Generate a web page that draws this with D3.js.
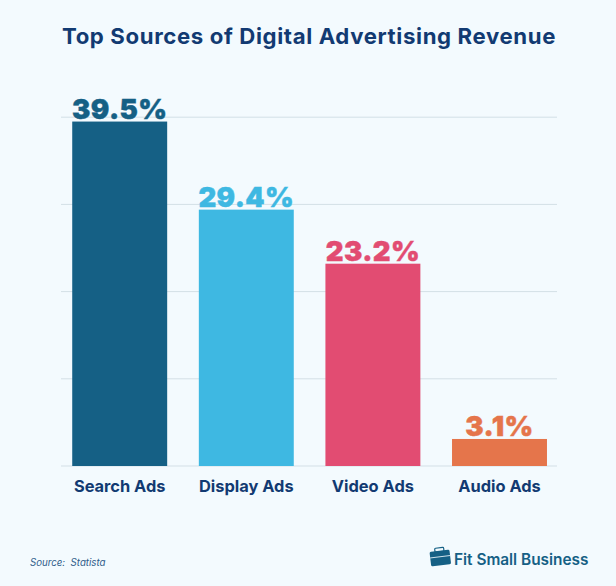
<!DOCTYPE html>
<html><head><meta charset="utf-8">
<script src="https://cdnjs.cloudflare.com/ajax/libs/d3/7.8.5/d3.min.js"></script>
<style>html,body{margin:0;padding:0;background:#f3fafe}svg{display:block}text{font-family:Inter,sans-serif}</style>
</head><body><svg id="c" width="616" height="586"></svg>
<script>
const categories=["Search Ads","Display Ads","Video Ads","Audio Ads"];
const values=[39.5,29.4,23.2,3.1];
const valueLabels=["39.5%","29.4%","23.2%","3.1%"];
const colors=["#156085","#3eb8e2","#e24c72","#e5754b"];
const gridTicks=[0,10,20,30,40];
const svg=d3.select("#c");
const navy="#123a72";
const x=d3.scaleBand().domain(categories).range([56.4,562.8]).paddingInner(.25).paddingOuter(.125);
const y=d3.scaleLinear().domain([0,40]).range([466,117.2]);
svg.append("rect").attr("width",616).attr("height",586).attr("fill","#f3fafe");
svg.append("text").attr("x",309).attr("y",44).attr("text-anchor","middle").attr("font-size",22.2).attr("font-weight",700).attr("fill",navy).attr("letter-spacing",.62).text("Top Sources of Digital Advertising Revenue");
svg.append("g").selectAll("line").data(gridTicks).join("line").attr("x1",61).attr("x2",557).attr("y1",d=>y(d)).attr("y2",d=>y(d)).attr("stroke","#d3dfe6").attr("stroke-width",1);
svg.append("g").selectAll("rect").data(categories).join("rect").attr("x",d=>x(d)).attr("width",x.bandwidth()).attr("y",(d,i)=>y(values[i])).attr("height",(d,i)=>y(0)-y(values[i])).attr("fill",(d,i)=>colors[i]);
svg.append("g").selectAll("text").data(categories).join("text").attr("x",d=>x(d)+x.bandwidth()/2).attr("y",(d,i)=>y(values[i])-3).attr("text-anchor","middle").attr("font-size",27.5).attr("font-weight",900).attr("letter-spacing",.4).attr("fill",(d,i)=>colors[i]).attr("stroke",(d,i)=>colors[i]).attr("stroke-width",.4).text((d,i)=>valueLabels[i]);
svg.append("g").selectAll("text").data(categories).join("text").attr("x",d=>x(d)+x.bandwidth()/2).attr("y",492).attr("text-anchor","middle").attr("font-size",16.4).attr("font-weight",700).attr("fill",navy).text(d=>d);
svg.append("text").attr("x",30).attr("y",566).attr("font-size",9.7).attr("font-style","italic").attr("fill","#2f5c8a").style("white-space","pre").text("Source:  Statista");
const logo=svg.append("g").attr("transform","translate(429.5,552) rotate(-7)");
logo.append("rect").attr("width",20).attr("height",14.5).attr("rx",1.5).attr("fill","#156085");
logo.append("rect").attr("x",5.5).attr("y",-3).attr("width",9).attr("height",4).attr("rx",1).attr("fill","none").attr("stroke","#156085").attr("stroke-width",1.2);
logo.append("line").attr("x1",0).attr("x2",20).attr("y1",6).attr("y2",6).attr("stroke","#f3fafe").attr("stroke-width",.8);
svg.append("text").attr("x",454).attr("y",565).attr("font-size",15.4).attr("font-weight",600).attr("fill","#156085").text("Fit Small Business");
</script></body></html>
